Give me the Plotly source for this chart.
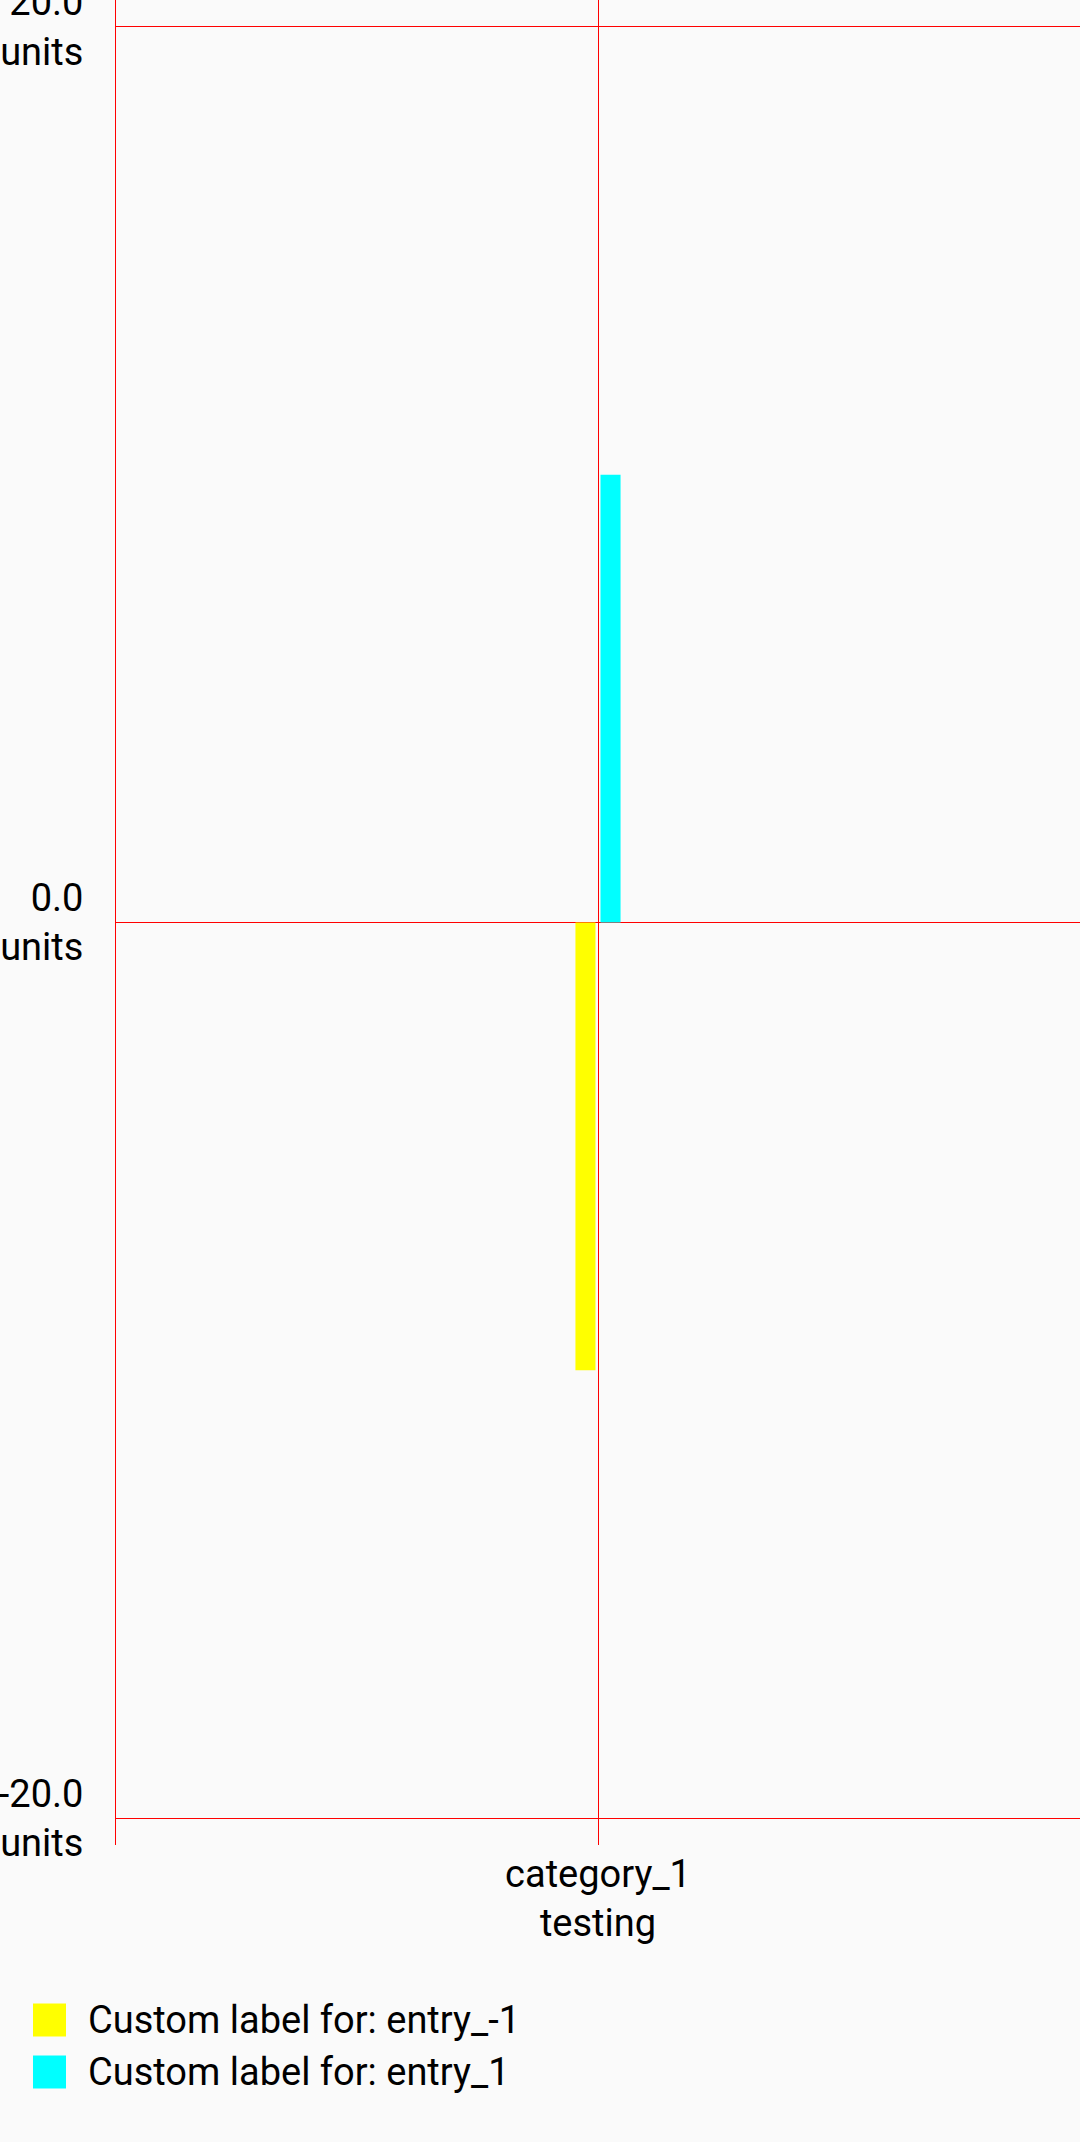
import plotly.graph_objects as go

# ---- data ----
categories = ["category_1"]
category_sublabels = ["testing"]
series_names = ["Custom label for: entry_-1", "Custom label for: entry_1"]
series_values = [[-10.0], [10.0]]
series_colors = ["#ffff00", "#00ffff"]
y_tickvals = [-20.0, 0.0, 20.0]
y_unit = "units"
y_range = [-20.6, 20.6]

# ---- layout constants ----
W, H = 1080, 2142
ML, MR, MT, MB = 116, 0, 0, 297
PW, PH = W - ML - MR, H - MT - MB
FONT = "Roboto"
FS = 38
BG = "#fafafa"


def px_x(x):
    return (x - ML) / PW


def px_y(y):
    return (MT + PH - y) / PH


fig = go.Figure()
for name, vals, col in zip(series_names, series_values, series_colors):
    fig.add_trace(go.Bar(x=categories, y=vals, name=name,
                         marker=dict(color=col, line=dict(width=0)),
                         showlegend=False))

# manual legend (large square swatches)
shapes = []
annotations = []
leg_y0 = 2020
leg_dy = 52
sw = 33
for i, (name, col) in enumerate(zip(series_names, series_colors)):
    cy = leg_y0 + i * leg_dy
    shapes.append(dict(type="rect", xref="paper", yref="paper",
                       x0=px_x(33), x1=px_x(33 + sw),
                       y0=px_y(cy - sw / 2), y1=px_y(cy + sw / 2),
                       fillcolor=col, line=dict(width=0), layer="above"))
    annotations.append(dict(xref="paper", yref="paper", x=px_x(86), y=px_y(cy),
                            xanchor="left", yanchor="middle", showarrow=False,
                            text=name, font=dict(family=FONT, size=FS, color="#000000")))

fig.update_layout(
    width=W, height=H,
    margin=dict(l=ML, r=MR, t=MT, b=MB, pad=0, autoexpand=False),
    paper_bgcolor=BG, plot_bgcolor=BG,
    font=dict(family=FONT, size=FS, color="#000000"),
    barmode="group", bargap=0.948, bargroupgap=0.2,
    showlegend=False,
    shapes=shapes, annotations=annotations,
    xaxis=dict(type="category", range=[-0.5, 0.5], automargin=False,
               tickvals=categories,
               ticktext=[f"{c}<br>{s}" for c, s in zip(categories, category_sublabels)],
               showgrid=True, gridcolor="#ff0000", gridwidth=1,
               showline=False, zeroline=False, ticks="",
               ticklabelstandoff=3, ticklabeloverflow="allow",
               tickfont=dict(family=FONT, size=FS, color="#000000")),
    yaxis=dict(range=y_range, tickvals=y_tickvals, automargin=False,
               ticktext=[f"{v:.1f}<br>{y_unit}" for v in y_tickvals],
               showgrid=True, gridcolor="#ff0000", gridwidth=1,
               zeroline=True, zerolinecolor="#ff0000", zerolinewidth=1,
               showline=True, linecolor="#ff0000", linewidth=1, mirror=True,
               ticks="", ticklabelstandoff=24, ticklabeloverflow="allow",
               tickfont=dict(family=FONT, size=FS, color="#000000")),
)

fig.write_html("out.html")
